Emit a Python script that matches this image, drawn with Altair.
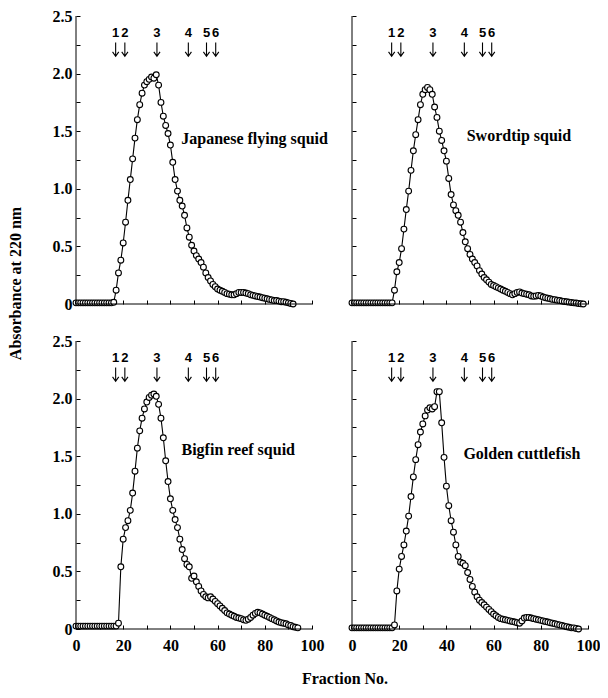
import altair as alt
import pandas as pd

FRACTION_DOMAIN = [0, 100]
ABS_DOMAIN = [0, 2.5]
X_TICKS = [0, 10, 20, 30, 40, 50, 60, 70, 80, 90, 100]
Y_TICKS = [0, 0.25, 0.5, 0.75, 1.0, 1.25, 1.5, 1.75, 2.0, 2.25, 2.5]

# Absorbance per fraction (fractions 0, 1, 2, ...)
JAPANESE_FLYING = [
    0.01, 0.01, 0.01, 0.01, 0.01, 0.01, 0.01, 0.01, 0.01, 0.01, 0.01, 0.01, 0.01, 0.01, 0.01, 0.01,
    0.015, 0.12, 0.27, 0.38, 0.53, 0.71, 0.90, 1.08, 1.26, 1.44, 1.60, 1.73, 1.83, 1.90, 1.93, 1.95,
    1.97, 1.96, 1.99, 1.90, 1.75, 1.63, 1.55, 1.48, 1.38, 1.23, 1.08, 0.98, 0.90, 0.85, 0.77, 0.66,
    0.58, 0.51, 0.46, 0.42, 0.39, 0.36, 0.32, 0.27, 0.23, 0.20, 0.17, 0.15, 0.13, 0.12, 0.11, 0.10,
    0.09, 0.085, 0.08, 0.08, 0.09, 0.10, 0.10, 0.10, 0.095, 0.09, 0.08, 0.075, 0.07, 0.065, 0.06,
    0.055, 0.05, 0.045, 0.04, 0.035, 0.03, 0.03, 0.025, 0.02, 0.02, 0.015, 0.01, 0.005, 0.0,
]
SWORDTIP = [
    0.01, 0.01, 0.01, 0.01, 0.01, 0.01, 0.01, 0.01, 0.01, 0.01, 0.01, 0.01, 0.01, 0.01, 0.01, 0.01,
    0.01, 0.01, 0.12, 0.28, 0.36, 0.48, 0.65, 0.82, 0.98, 1.16, 1.33, 1.47, 1.60, 1.73, 1.82, 1.86,
    1.88, 1.86, 1.82, 1.71, 1.62, 1.50, 1.42, 1.33, 1.24, 1.09, 0.95, 0.86, 0.81, 0.77, 0.71, 0.62,
    0.54, 0.48, 0.43, 0.39, 0.36, 0.33, 0.29, 0.26, 0.23, 0.21, 0.19, 0.17, 0.16, 0.15, 0.14, 0.13,
    0.12, 0.11, 0.10, 0.09, 0.08, 0.09, 0.10, 0.105, 0.095, 0.09, 0.085, 0.08, 0.07, 0.067, 0.07,
    0.075, 0.07, 0.06, 0.055, 0.05, 0.045, 0.04, 0.037, 0.033, 0.03, 0.025, 0.022, 0.019, 0.016,
    0.013, 0.01, 0.008, 0.005, 0.002, 0.0,
]
BIGFIN_REEF = [
    0.025, 0.025, 0.025, 0.025, 0.025, 0.025, 0.025, 0.025, 0.025, 0.025, 0.025, 0.025, 0.025,
    0.025, 0.025, 0.025, 0.025, 0.025, 0.05, 0.54, 0.78, 0.88, 0.94, 1.03, 1.18, 1.37, 1.57, 1.72,
    1.83, 1.91, 1.97, 2.01, 2.03, 2.04, 2.02, 1.95, 1.83, 1.66, 1.46, 1.28, 1.13, 1.03, 0.95, 0.88,
    0.78, 0.69, 0.61, 0.56, 0.54, 0.44, 0.46, 0.41, 0.37, 0.33, 0.30, 0.28, 0.27, 0.28, 0.26, 0.24,
    0.22, 0.20, 0.18, 0.16, 0.14, 0.13, 0.12, 0.11, 0.10, 0.095, 0.09, 0.08, 0.075, 0.085, 0.10,
    0.12, 0.135, 0.145, 0.14, 0.13, 0.12, 0.11, 0.10, 0.09, 0.08, 0.07, 0.06, 0.055, 0.05, 0.045,
    0.035, 0.03, 0.02, 0.015, 0.01,
]
GOLDEN_CUTTLEFISH = [
    0.01, 0.01, 0.01, 0.01, 0.01, 0.01, 0.01, 0.01, 0.01, 0.01, 0.01, 0.01, 0.01, 0.01, 0.01, 0.01,
    0.01, 0.01, 0.035, 0.33, 0.52, 0.63, 0.73, 0.85, 0.98, 1.15, 1.32, 1.47, 1.60, 1.71, 1.78, 1.85,
    1.90, 1.92, 1.91, 1.93, 2.06, 2.06, 1.79, 1.49, 1.24, 1.07, 0.94, 0.84, 0.73, 0.63, 0.58, 0.57,
    0.55, 0.49, 0.43, 0.37, 0.32, 0.28, 0.25, 0.23, 0.21, 0.19, 0.17, 0.15, 0.13, 0.115, 0.10, 0.09,
    0.085, 0.08, 0.075, 0.07, 0.065, 0.06, 0.055, 0.05, 0.07, 0.095, 0.10, 0.10, 0.095, 0.09, 0.085,
    0.08, 0.075, 0.07, 0.065, 0.06, 0.055, 0.05, 0.045, 0.04, 0.035, 0.03, 0.025, 0.02, 0.015, 0.01,
    0.01, 0.005, 0.0,
]

# Marker arrows (elution positions of the standards)
ARROW_FRACTIONS = [16.8, 20.7, 34.3, 47.6, 55.3, 59.2]
ARROW_NUMBERS = ["1", "2", "3", "4", "5", "6"]
NUMBER_LEVEL = 2.35
ARROW_LEVEL = 2.21

PANEL_NAMES = ["Japanese flying squid", "Swordtip squid", "Bigfin reef squid", "Golden cuttlefish"]
PANEL_SERIES = [JAPANESE_FLYING, SWORDTIP, BIGFIN_REEF, GOLDEN_CUTTLEFISH]
NAME_FRACTION = [44.6, 48.6, 44.7, 47.2]
NAME_LEVEL = [1.43, 1.46, 1.55, 1.52]

SERIF = "Liberation Serif"
SANS = "Liberation Sans"
ARROW_PATH = "M0,-1L0,1M-0.45,0.35L0,1L0.45,0.35"


def panel(i, show_x, show_y):
    values = PANEL_SERIES[i]
    df = pd.DataFrame({"fraction": list(range(len(values))), "absorbance": values})
    xs = alt.Scale(domain=FRACTION_DOMAIN, nice=False, zero=False)
    ys = alt.Scale(domain=ABS_DOMAIN, nice=False)
    xaxis = alt.Axis(
        values=X_TICKS, labels=show_x,
        labelExpr="datum.value % 20 == 0 ? datum.label : ''",
        domain=False, offset=-4, tickSize=4, tickColor="black", tickWidth=1,
        labelFont=SERIF, labelFontWeight="bold", labelFontSize=16, labelColor="black",
        labelPadding=8, title=None, grid=False, labelFlush=False, labelOverlap=False,
    )
    yaxis = alt.Axis(
        values=Y_TICKS, labels=show_y,
        labelExpr="datum.value == 0 ? '0' : ((datum.value * 4) % 2 == 0 ? format(datum.value, '.1f') : '')",
        domain=False, offset=-4, tickSize=4, tickColor="black", tickWidth=1,
        labelFont=SERIF, labelFontWeight="bold", labelFontSize=16, labelColor="black",
        labelPadding=4, title=None, grid=False, labelFlush=False, labelOverlap=False,
    )

    def X(f):
        return alt.X(f, scale=xs, axis=xaxis)

    def Y(f):
        return alt.Y(f, scale=ys, axis=yaxis)

    line = alt.Chart(df).mark_line(color="black", strokeWidth=1.1).encode(
        x=X("fraction:Q"), y=Y("absorbance:Q"))
    pts = alt.Chart(df).mark_point(
        shape="circle", filled=True, fill="white", stroke="black", strokeWidth=1.1, size=34, opacity=1
    ).encode(x=X("fraction:Q"), y=Y("absorbance:Q"))

    adf = pd.DataFrame({
        "fraction": ARROW_FRACTIONS,
        "num": ARROW_NUMBERS,
        "nlevel": [NUMBER_LEVEL] * len(ARROW_FRACTIONS),
        "alevel": [ARROW_LEVEL] * len(ARROW_FRACTIONS),
    })
    nums = alt.Chart(adf).mark_text(
        font=SANS, fontWeight="bold", fontSize=13, color="black", baseline="middle", align="center"
    ).encode(x=X("fraction:Q"), y=Y("nlevel:Q"), text="num:N")
    arrows = alt.Chart(adf).mark_point(
        shape=ARROW_PATH, filled=False, stroke="black", strokeWidth=1.1, size=190, opacity=1
    ).encode(x=X("fraction:Q"), y=Y("alevel:Q"))

    ndf = pd.DataFrame({"fraction": [NAME_FRACTION[i]], "level": [NAME_LEVEL[i]], "name": [PANEL_NAMES[i]]})
    name = alt.Chart(ndf).mark_text(
        font=SERIF, fontWeight="bold", fontSize=16, color="black", baseline="middle", align="left"
    ).encode(x=X("fraction:Q"), y=Y("level:Q"), text="name:N")

    ddf = pd.DataFrame({"x0": [FRACTION_DOMAIN[0]], "x1": [FRACTION_DOMAIN[1]],
                        "y0": [ABS_DOMAIN[0]], "y1": [ABS_DOMAIN[1]]})
    xdom = alt.Chart(ddf).mark_rule(color="black", strokeWidth=1).encode(
        x=X("x0:Q"), x2="x1:Q", y=Y("y0:Q"))
    ydom = alt.Chart(ddf).mark_rule(color="black", strokeWidth=1).encode(
        x=X("x0:Q"), y=Y("y0:Q"), y2="y1:Q")

    return alt.layer(line, pts, arrows, nums, name, xdom, ydom).properties(width=236, height=288)


grid = alt.concat(
    panel(0, False, True), panel(1, False, False),
    panel(2, True, True), panel(3, True, False),
    columns=2, spacing=alt.RowColnumber(row=37, column=40), bounds="flush",
    title=alt.TitleParams("Fraction No.", orient="bottom", anchor="middle", frame="bounds",
                          offset=18, dx=19, font=SERIF, fontWeight="bold", fontSize=16, color="black"),
)
chart = alt.hconcat(
    grid,
    title=alt.TitleParams("Absorbance at 220 nm", orient="left", anchor="middle", frame="bounds",
                          offset=28, dx=64, font=SERIF, fontWeight="bold", fontSize=16, color="black"),
).properties(
    padding={"left": 0, "top": 0, "right": 0, "bottom": 0}, background="white"
).configure_view(stroke=None)

chart.save("out.html", embed_options={"renderer": "svg", "actions": False})
